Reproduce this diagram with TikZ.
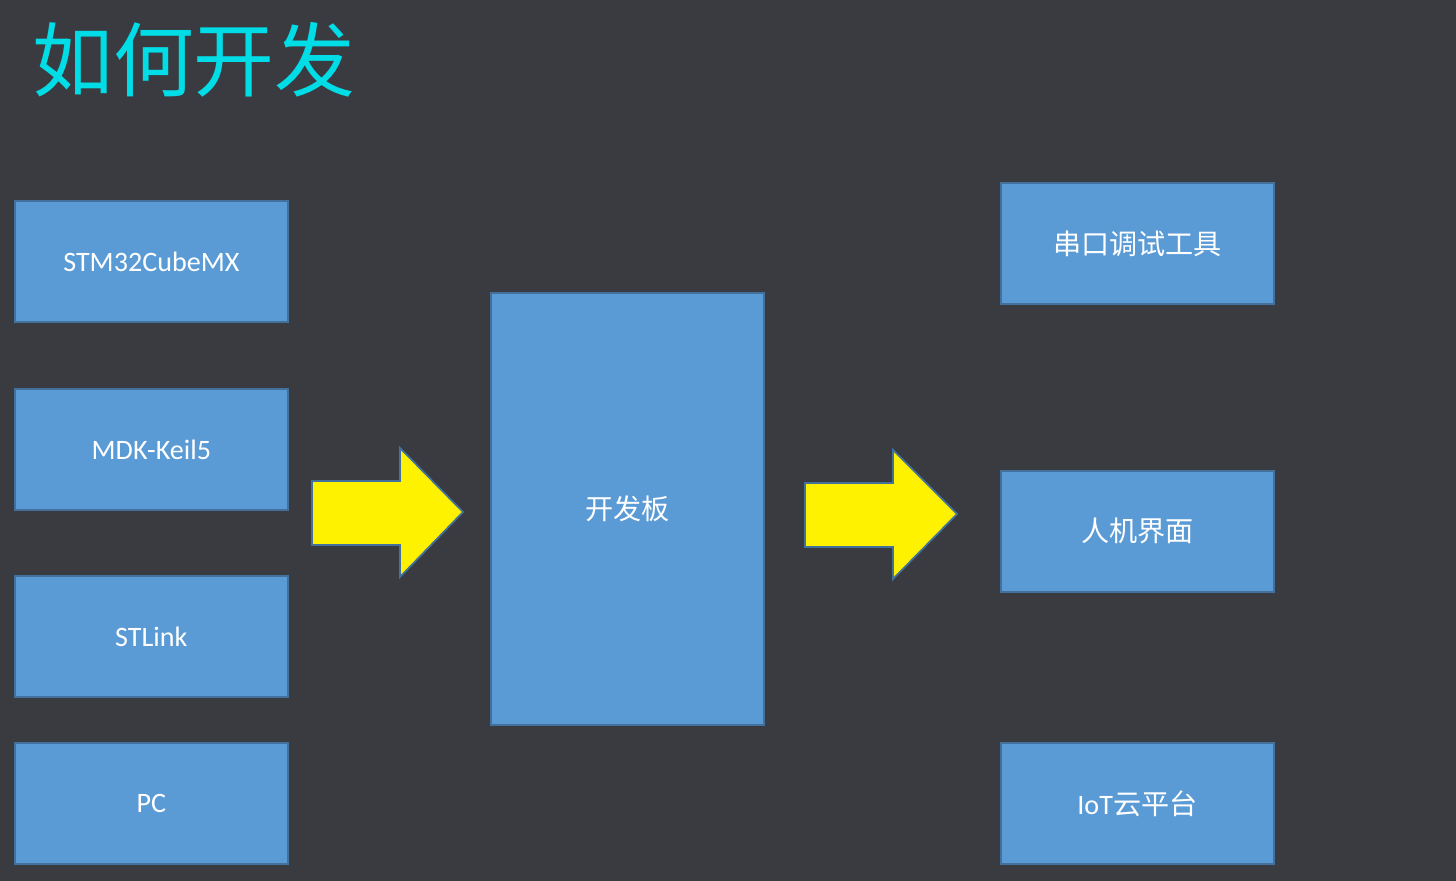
\documentclass[tikz,border=0pt]{standalone}
\usepackage{fontspec}
\setmainfont{Carlito}
\newfontfamily\cjk{Noto Sans CJK SC}
\usetikzlibrary{positioning}
\definecolor{bgdark}{HTML}{3A3B40}
\definecolor{boxfill}{HTML}{5B9BD5}
\definecolor{boxline}{HTML}{41719C}
\definecolor{titlecyan}{HTML}{00DDE6}
\begin{document}
\begin{tikzpicture}[x=0.02cm, y=-0.02cm,
tool/.style={draw=boxline, fill=boxfill, line width=1pt,
minimum width=5.46cm, minimum height=2.42cm,
text=white, font=\fontsize{16}{18}\selectfont, anchor=north west},
bigarrow/.style={draw=boxline, fill=yellow, line width=1pt}
]

\fill[bgdark] (0,0) rectangle (1456,881);
\useasboundingbox (0,0) rectangle (1456,881);

\node[text=titlecyan, font=\cjk\fontsize{46}{50}\selectfont, anchor=west] (title) at (26,60) {如何开发};

% left column
\node[tool] (cubemx) at (14,200) {STM32CubeMX};
\node[tool] (keil) at (14,388) {MDK-Keil5};
\node[tool] (stlink) at (14,575) {STLink};
\node[tool] (pc) at (14,742) {PC};

% board
\node[tool, minimum height=8.64cm, font=\cjk\fontsize{16}{18}\selectfont] (board) at (490,292) {开发板};

% right column
\node[tool, font=\cjk\fontsize{16}{18}\selectfont] (serial) at (1000,182) {串口调试工具};
\node[tool, font=\cjk\fontsize{16}{18}\selectfont] (hmi) at (1000,470) {人机界面};
\node[tool] (iot) at (1000,742) {IoT{\cjk 云平台}};

% arrows
\draw[bigarrow] (312,481) -- (400,481) -- (400,448) -- (463,512) -- (400,577) -- (400,545) -- (312,545) -- cycle;
\draw[bigarrow] (805,483) -- (893,483) -- (893,450) -- (957,514) -- (893,579) -- (893,547) -- (805,547) -- cycle;

\end{tikzpicture}
\end{document}
